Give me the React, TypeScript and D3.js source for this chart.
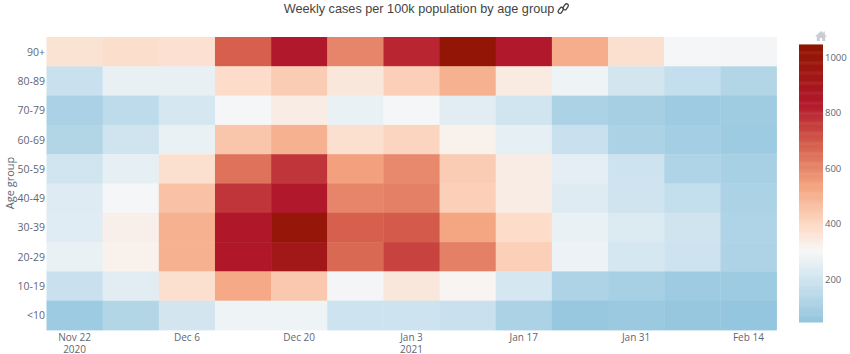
import React from "react";
import * as d3 from "d3";

const ageGroups = ["90+", "80-89", "70-79", "60-69", "50-59", "40-49", "30-39", "20-29", "10-19", "<10"];
const weeks = ["2020-11-22","2020-11-29","2020-12-06","2020-12-13","2020-12-20","2020-12-27","2021-01-03","2021-01-10","2021-01-17","2021-01-24","2021-01-31","2021-02-07","2021-02-14"];
const row90 = [365, 380, 370, 680, 830, 600, 800, 1020, 830, 510, 375, 295, 290];
const row80 = [180, 262, 262, 385, 430, 350, 420, 500, 340, 275, 205, 165, 125];
const row70 = [105, 150, 210, 295, 335, 265, 295, 245, 200, 110, 95, 75, 80];
const row60 = [125, 195, 265, 445, 500, 375, 405, 320, 255, 180, 110, 90, 72];
const row50 = [200, 255, 375, 640, 770, 540, 590, 430, 335, 250, 190, 120, 100];
const row40 = [235, 295, 455, 770, 830, 600, 610, 420, 335, 235, 195, 165, 110];
const row30 = [240, 325, 500, 840, 1000, 680, 690, 530, 385, 265, 230, 195, 120];
const row20 = [265, 320, 500, 840, 930, 660, 740, 610, 420, 270, 210, 190, 115];
const row10 = [180, 245, 375, 520, 440, 290, 350, 310, 210, 115, 100, 75, 72];
const row0 = [72, 125, 205, 275, 275, 190, 190, 180, 110, 60, 65, 55, 50];
const rows = [row90, row80, row70, row60, row50, row40, row30, row20, row10, row0];

const xTicks = [
  { date: "2020-11-22", lines: ["Nov 22", "2020"] },
  { date: "2020-12-06", lines: ["Dec 6"] },
  { date: "2020-12-20", lines: ["Dec 20"] },
  { date: "2021-01-03", lines: ["Jan 3", "2021"] },
  { date: "2021-01-17", lines: ["Jan 17"] },
  { date: "2021-01-31", lines: ["Jan 31"] },
  { date: "2021-02-14", lines: ["Feb 14"] },
];
const colorStops = [45, 200, 300, 390, 530, 680, 830, 1043];
const colorRange = ["#92c5de", "#d1e5f0", "#f7f7f7", "#fddbc7", "#f4a582", "#d6604d", "#b2182b", "#8f1500"];
const barTicks = [200, 400, 600, 800, 1000];

const font = "'Open Sans', sans-serif";
const tickColor = "#5f6672";

export default function App() {
  const x = d3.scaleBand().domain(weeks).range([46.5, 776.5]);
  const y = d3.scaleBand().domain(ageGroups).range([37, 330]);
  const color = d3.scaleLinear<string>().domain(colorStops).range(colorRange).interpolate(d3.interpolateRgb);
  const bar = d3.scaleLinear().domain([45, 1043]).range([322, 45]);
  const barSteps = d3.range(45, 1043, 4);

  return (
    <svg width={850} height={354} style={{ position: "absolute", left: 0, top: 0, background: "#fff" }}>
      <text x={419} y={13} textAnchor="middle" fontFamily="'Liberation Sans', Arial, sans-serif" fontSize={12.7} fill="#444">
        Weekly cases per 100k population by age group
      </text>
      <g transform="translate(558,3.5)" fill="none" stroke="#444" strokeWidth={1.3}>
        <rect x={-0.5} y={5} width={6.5} height={3.6} rx={1.8} transform="rotate(-55 2.75 6.8)" />
        <rect x={4.5} y={1.5} width={6.5} height={3.6} rx={1.8} transform="rotate(-55 7.75 3.3)" />
      </g>

      {rows.map((vals, r) =>
        vals.map((v, c) => (
          <rect
            key={`${r}-${c}`}
            x={x(weeks[c])}
            y={y(ageGroups[r])}
            width={x.bandwidth() + 0.4}
            height={y.bandwidth() + 0.4}
            fill={color(v)}
          />
        ))
      )}

      {ageGroups.map((g) => (
        <text key={g} x={45} y={y(g)! + y.bandwidth() / 2 + 4} textAnchor="end" fontFamily={font} fontSize={10.5} fill={tickColor}>
          {g}
        </text>
      ))}
      <text transform="translate(14,183) rotate(-90)" textAnchor="middle" fontFamily={font} fontSize={11} fill={tickColor}>
        Age group
      </text>

      {xTicks.map((t) => {
        const cx = x(t.date)! + x.bandwidth() / 2;
        return (
          <g key={t.date}>
            {t.lines.map((l, i) => (
              <text key={l} x={cx} y={341 + i * 12} textAnchor="middle" fontFamily={font} fontSize={10} fill={tickColor}>
                {l}
              </text>
            ))}
          </g>
        );
      })}

      {barSteps.map((v) => (
        <rect key={v} x={799} y={bar(v + 4)} width={24} height={bar(v) - bar(v + 4) + 0.5} fill={color(v)} />
      ))}
      {barTicks.map((t) => (
        <text key={t} x={825} y={bar(t) + 3.7} fontFamily={font} fontSize={9.5} fill={tickColor}>
          {t}
        </text>
      ))}

      <path
        d="M821 31 l-6 5.5 h1.8 v4.5 h3 v-3 h2.4 v3 h3 v-4.5 h1.8 l-2.2 -2 v-3 h-1.4 v1.7 z"
        fill="#c9ccd1"
      />
    </svg>
  );
}
